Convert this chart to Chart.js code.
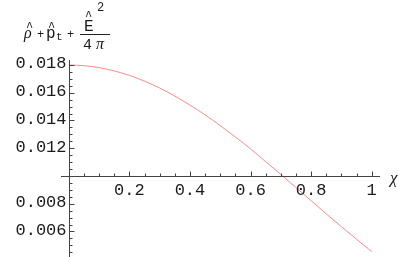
<!DOCTYPE html>
<html>
<head>
<meta charset="utf-8">
<script src="https://cdn.jsdelivr.net/npm/chart.js@4.4.1/dist/chart.umd.min.js"></script>
<style>
  html, body { margin: 0; padding: 0; background: #fff; }
  #wrap { position: relative; width: 416px; height: 257px; }
</style>
</head>
<body>
<div id="wrap"><canvas id="chart" width="416" height="257"></canvas></div>
<script>
// values
const chiValues = [0, 0.05, 0.1, 0.15, 0.2, 0.25, 0.3, 0.35, 0.4, 0.45, 0.5,
                   0.55, 0.6, 0.65, 0.7, 0.75, 0.8, 0.85, 0.9, 0.95, 1];
const energySum = [0.01800, 0.01795, 0.01781, 0.01757, 0.01725, 0.01683, 0.01634,
                   0.01576, 0.01511, 0.01440, 0.01363, 0.01281, 0.01195, 0.01103,
                   0.01011, 0.00917, 0.00822, 0.00727, 0.00634, 0.00544, 0.00455];

const xTickValues = [0.2, 0.4, 0.6, 0.8, 1];
const xTickLabels = ['0.2', '0.4', '0.6', '0.8', '1'];
const yTickValues = [0.006, 0.008, 0.012, 0.014, 0.016, 0.018];
const yTickLabels = ['0.006', '0.008', '0.012', '0.014', '0.016', '0.018'];

const AXIS_CROSS_X = 0;
const AXIS_CROSS_Y = 0.010;

const MONO = '"Liberation Mono", "Courier New", monospace';
const SERIF = '"Liberation Serif", "Times New Roman", serif';

// Mathematica-style axes: crossing axes, inward ticks, minor ticks
const mmaAxes = {
  id: 'mmaAxes',
  afterDraw(chart) {
    const {ctx, chartArea: a, scales: {x, y}} = chart;
    const px0 = Math.round(x.getPixelForValue(AXIS_CROSS_X)) + 0.5;
    const py0 = Math.round(y.getPixelForValue(AXIS_CROSS_Y)) + 0.5;
    ctx.save();
    ctx.strokeStyle = '#444';
    ctx.lineWidth = 1;
    ctx.beginPath();
    ctx.moveTo(px0, a.top); ctx.lineTo(px0, a.bottom);
    ctx.moveTo(a.left, py0); ctx.lineTo(a.right, py0);

    // x ticks (upward)
    for (let i = 1; i <= 20; i++) {
      const v = i * 0.05;
      const major = i % 4 === 0;
      const p = Math.round(x.getPixelForValue(v)) + 0.5;
      ctx.moveTo(p, py0); ctx.lineTo(p, py0 - (major ? 5 : 3));
    }
    // y ticks (rightward)
    for (let i = 8; i <= 36; i++) {
      const v = i * 0.0005;
      if (Math.abs(v - AXIS_CROSS_Y) < 1e-9) continue;
      const major = i % 4 === 0;
      const p = Math.round(y.getPixelForValue(v)) + 0.5;
      if (p > a.bottom) continue;
      ctx.moveTo(px0, p); ctx.lineTo(px0 + (major ? 5 : 3), p);
    }
    ctx.stroke();

    // tick labels
    ctx.fillStyle = '#1a1a1a';
    ctx.font = '17px ' + MONO;
    ctx.textAlign = 'center';
    ctx.textBaseline = 'top';
    xTickValues.forEach((v, i) => {
      ctx.fillText(xTickLabels[i], x.getPixelForValue(v), py0 + 5);
    });
    ctx.textAlign = 'right';
    ctx.textBaseline = 'middle';
    yTickValues.forEach((v, i) => {
      ctx.fillText(yTickLabels[i], px0 - 3, y.getPixelForValue(v) - 1);
    });

    // x axis label
    ctx.textAlign = 'left';
    ctx.textBaseline = 'alphabetic';
    ctx.font = 'italic 17px ' + SERIF;
    ctx.fillText('\u03C7', a.right + 10, py0 + 6);

    // y axis label: rho^ + p^_t + E^^2 / (4 pi)
    ctx.font = 'italic 16px ' + SERIF;
    ctx.fillText('\u03C1', 24, 38);
    ctx.font = '12px ' + MONO;
    ctx.fillText('^', 26, 31);
    ctx.fillText('+', 37, 38);
    ctx.font = '16px ' + MONO;
    ctx.fillText('p', 46, 38);
    ctx.font = '12px ' + MONO;
    ctx.fillText('^', 48, 31);
    ctx.font = '11px ' + MONO;
    ctx.fillText('t', 56, 40);
    ctx.font = '12px ' + MONO;
    ctx.fillText('+', 67, 38);
    ctx.font = '16px ' + MONO;
    ctx.fillText('E', 84, 31);
    ctx.font = '12px ' + MONO;
    ctx.fillText('^', 85, 20);
    ctx.fillText('2', 97, 11);
    ctx.font = '15px ' + MONO;
    ctx.fillText('4', 83, 49);
    ctx.font = 'italic 16px ' + SERIF;
    ctx.fillText('\u03C0', 96, 49);
    ctx.beginPath();
    ctx.moveTo(80, 34.5); ctx.lineTo(110, 34.5);
    ctx.strokeStyle = '#222';
    ctx.stroke();
    ctx.restore();
  }
};

new Chart(document.getElementById('chart'), {
  type: 'line',
  data: {
    datasets: [{
      data: chiValues.map((c, i) => ({x: c, y: energySum[i]})),
      borderColor: '#ff8c8c',
      borderWidth: 1,
      pointRadius: 0,
      cubicInterpolationMode: 'monotone',
      fill: false
    }]
  },
  options: {
    responsive: false,
    animation: false,
    devicePixelRatio: 1,
    layout: {padding: {left: 61, top: 60, right: 36, bottom: 0}},
    scales: {
      x: {type: 'linear', min: -0.0257, max: 1.0274, display: false},
      y: {type: 'linear', min: 0.004162, max: 0.018360, display: false}
    },
    plugins: {legend: {display: false}, tooltip: {enabled: false}}
  },
  plugins: [mmaAxes]
});
</script>
</body>
</html>
